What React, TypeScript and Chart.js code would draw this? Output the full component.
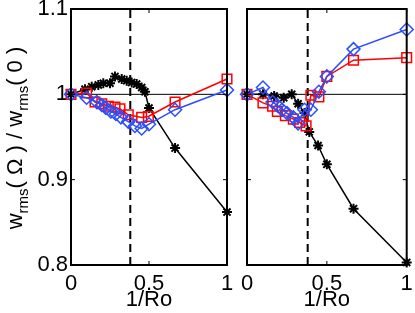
import React, { useEffect, useRef } from "react";
import { Chart, registerables } from "chart.js";
Chart.register(...registerables);

const xTicks = [0, 0.5, 1];
const xTickLabels = ["0", "0.5", "1"];
const yTicks = [0.8, 0.9, 1.0, 1.1];
const yTickLabels = ["0.8", "0.9", "1", "1.1"];
const xTitle = "1/Ro";
const refLevel = 1;
const dashX = 0.38;

const leftBlackX = [0, 0.09, 0.133, 0.175, 0.207, 0.25, 0.282, 0.325, 0.357, 0.389, 0.421, 0.453, 0.474, 0.5, 0.667, 1];
const leftBlackY = [1.0, 1.006, 1.009, 1.011, 1.013, 1.013, 1.021, 1.018, 1.016, 1.014, 1.012, 1.008, 1.003, 0.984, 0.937, 0.862];
const leftRedX = [0, 0.1, 0.154, 0.197, 0.239, 0.282, 0.314, 0.367, 0.453, 0.496, 0.667, 1];
const leftRedY = [1.0, 1.0015, 0.991, 0.989, 0.986, 0.985, 0.983, 0.976, 0.973, 0.974, 0.991, 1.018];
const leftBlueX = [0, 0.1, 0.165, 0.197, 0.224, 0.256, 0.288, 0.32, 0.367, 0.41, 0.453, 0.5, 0.667, 1];
const leftBlueY = [1.0, 0.996, 0.991, 0.9875, 0.984, 0.98, 0.977, 0.973, 0.968, 0.963, 0.96, 0.965, 0.982, 1.005];

const rightBlackX = [0, 0.1, 0.17, 0.23, 0.28, 0.32, 0.36, 0.39, 0.445, 0.5, 0.667, 1];
const rightBlackY = [1.0, 1.0, 0.998, 0.996, 1.0, 0.989, 0.978, 0.956, 0.94, 0.918, 0.866, 0.803];
const rightRedX = [0, 0.1, 0.16, 0.19, 0.24, 0.29, 0.33, 0.37, 0.4, 0.45, 0.5, 0.667, 1];
const rightRedY = [1.0, 0.99, 0.986, 0.98, 0.975, 0.971, 0.967, 0.963, 0.999, 0.997, 1.021, 1.04, 1.043];
const rightBlueX = [0, 0.1, 0.16, 0.19, 0.22, 0.25, 0.29, 0.32, 0.36, 0.4, 0.45, 0.5, 0.667, 1];
const rightBlueY = [1.0, 1.008, 0.991, 0.987, 0.982, 0.978, 0.973, 0.966, 0.982, 0.982, 1.003, 1.021, 1.053, 1.076];

const FONT = "'Liberation Sans', Arial, Helvetica, sans-serif";
const FS = 22;
const BLUE = "#2a4dff";
const RED = "#ff0000";

const pts = (xs: number[], ys: number[]) => xs.map((x, i) => ({ x, y: ys[i] }));

const framePlugin = {
  id: "frame",
  afterDatasetsDraw(chart: any) {
    const { ctx, chartArea: a, scales } = chart;
    ctx.save();
    ctx.strokeStyle = "#000";
    ctx.lineWidth = 2;
    ctx.strokeRect(a.left, a.top, a.right - a.left, a.bottom - a.top);
    ctx.lineWidth = 1;
    ctx.beginPath();
    const tl = 4;
    yTicks.forEach((v) => {
      const p = scales.y.getPixelForValue(v);
      ctx.moveTo(a.left, p); ctx.lineTo(a.left + tl, p);
      ctx.moveTo(a.right, p); ctx.lineTo(a.right - tl, p);
    });
    xTicks.forEach((v) => {
      const p = scales.x.getPixelForValue(v);
      ctx.moveTo(p, a.bottom); ctx.lineTo(p, a.bottom - tl);
      ctx.moveTo(p, a.top); ctx.lineTo(p, a.top + tl);
    });
    ctx.stroke();
    ctx.restore();
  },
};

const yTitlePlugin = {
  id: "ytitle",
  afterDraw(chart: any) {
    const { ctx } = chart;
    const segs: [string, boolean][] = [
      ["w", false], ["rms", true], ["( \u03A9 ) / w", false], ["rms", true], ["( 0 )", false],
    ];
    const main = `${FS}px ${FONT}`;
    const sub = `15px ${FONT}`;
    ctx.save();
    let total = 0;
    segs.forEach(([t, s]) => { ctx.font = s ? sub : main; total += ctx.measureText(t).width; });
    ctx.translate(22, 138);
    ctx.rotate(-Math.PI / 2);
    ctx.fillStyle = "#000";
    ctx.textBaseline = "alphabetic";
    ctx.textAlign = "left";
    let x = -total / 2;
    segs.forEach(([t, s]) => {
      ctx.font = s ? sub : main;
      ctx.fillText(t, x, s ? 6 : 0);
      x += ctx.measureText(t).width;
    });
    ctx.restore();
  },
};

function Panel(props: { side: "left" | "right" }) {
  const ref = useRef<HTMLCanvasElement | null>(null);
  const isLeft = props.side === "left";
  const width = isLeft ? 237 : 178;
  useEffect(() => {
    const bx = isLeft ? leftBlackX : rightBlackX, by = isLeft ? leftBlackY : rightBlackY;
    const rx = isLeft ? leftRedX : rightRedX, ry = isLeft ? leftRedY : rightRedY;
    const ux = isLeft ? leftBlueX : rightBlueX, uy = isLeft ? leftBlueY : rightBlueY;
    const font = { family: FONT, size: FS };
    const chart = new Chart(ref.current as HTMLCanvasElement, {
      type: "scatter",
      data: {
        datasets: [
          { data: pts([xTicks[0], xTicks[xTicks.length - 1]], [refLevel, refLevel]), showLine: true, borderColor: "#000", borderWidth: 1, pointRadius: 0, order: 6 },
          { data: pts([dashX, dashX], [yTicks[0], yTicks[yTicks.length - 1]]), showLine: true, borderColor: "#000", borderWidth: 2, borderDash: [8, 5], pointRadius: 0, order: 5 },
          { data: pts(bx, by), showLine: true, borderColor: "#000", borderWidth: 1.5, pointStyle: "star", pointRadius: 5, pointBorderWidth: 2, pointBorderColor: "#000", pointBackgroundColor: "#000", order: 3 },
          { data: pts(rx, ry), showLine: true, borderColor: RED, borderWidth: 1.5, pointStyle: "rect", pointRadius: 6.8, pointBorderWidth: 1.5, pointBorderColor: RED, pointBackgroundColor: "rgba(0,0,0,0)", order: 2 },
          { data: pts(ux, uy), showLine: true, borderColor: BLUE, borderWidth: 1.5, pointStyle: "rectRot", pointRadius: 6.5, pointBorderWidth: 1.5, pointBorderColor: BLUE, pointBackgroundColor: "rgba(0,0,0,0)", order: 1 },
        ] as any,
      },
      options: {
        animation: false,
        responsive: false,
        clip: false as any,
        layout: { padding: isLeft ? { top: 9, right: 10, bottom: 0, left: 0 } : { top: 9, right: 4, bottom: 0, left: 10 } },
        plugins: { legend: { display: false }, tooltip: { enabled: false } },
        scales: {
          x: {
            type: "linear", min: 0, max: 1,
            afterBuildTicks: (s: any) => { s.ticks = xTicks.map((v) => ({ value: v })); },
            ticks: { callback: (_v: any, i: number) => xTickLabels[i], font, color: "#000", padding: 6, maxRotation: 0, autoSkip: false },
            grid: { display: false, drawTicks: false },
            border: { display: false },
            title: { display: true, text: xTitle, font, color: "#000", padding: 0 },
            afterFit: (s: any) => { s.height = 48; s.paddingLeft = 0; s.paddingRight = 0; },
          } as any,
          y: {
            type: "linear", min: 0.8, max: 1.1, display: isLeft,
            afterBuildTicks: (s: any) => { s.ticks = yTicks.map((v) => ({ value: v })); },
            ticks: { callback: (_v: any, i: number) => yTickLabels[i], font, color: "#000", padding: 3, autoSkip: false },
            grid: { display: false, drawTicks: false },
            border: { display: false },
            afterFit: (s: any) => { s.width = isLeft ? 71 : 0; s.paddingTop = 0; s.paddingBottom = 0; },
          } as any,
        },
      },
      plugins: isLeft ? [framePlugin, yTitlePlugin] : [framePlugin],
    });
    return () => chart.destroy();
  }, []);
  return (
    <canvas ref={ref} width={width} height={313}
      style={{ position: "absolute", left: isLeft ? 0 : 237, top: 0, width, height: 313 }} />
  );
}

export default function App() {
  return (
    <div style={{ position: "absolute", left: 0, top: 0, width: 415, height: 313, overflow: "hidden", background: "#fff" }}>
      <Panel side="left" />
      <Panel side="right" />
    </div>
  );
}
